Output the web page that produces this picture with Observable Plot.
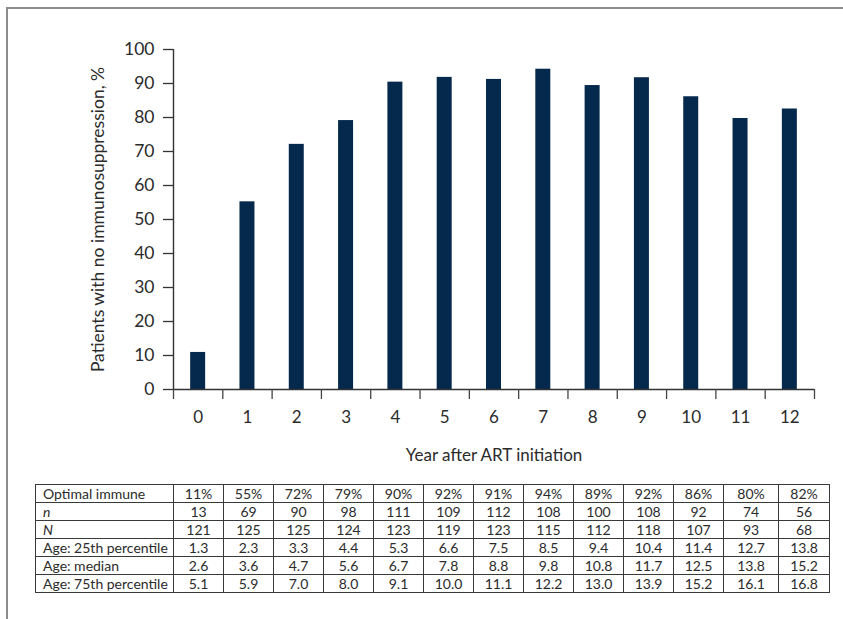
<!DOCTYPE html>
<html>
<head>
<meta charset="utf-8">
<script src="https://cdn.jsdelivr.net/npm/d3@7"></script>
<script src="https://cdn.jsdelivr.net/npm/@observablehq/plot@0.6"></script>
<style>
  html, body { margin: 0; padding: 0; background: #fff; }
  #wrap { position: relative; width: 843px; height: 619px; overflow: hidden; font-family: Lato, "Open Sans", sans-serif; color: #2b2b2b; }
  #frame { position: absolute; left: 6px; top: 7px; width: 850px; height: 640px; border-top: 2px solid #8c8c8c; border-left: 2px solid #8c8c8c; }
  #chart { position: absolute; left: 0; top: 0; }
  #tbl { position: absolute; left: 35px; top: 484px; border-collapse: collapse; table-layout: fixed; font-size: 14px; color: #2b2b2b; }
  #tbl td { border: 1px solid #3a3a3a; height: 17px; line-height: 17px; padding: 0; text-align: center; white-space: nowrap; overflow: hidden; }
  #tbl td.lab { text-align: left; padding-left: 7px; }
</style>
</head>
<body>
<div id="wrap">
  <div id="frame"></div>
  <div id="chart"></div>
  <table id="tbl"></table>
</div>
<script>
// ---- data ----
const years = [0, 1, 2, 3, 4, 5, 6, 7, 8, 9, 10, 11, 12];
const barValues = [10.9, 55.2, 72.1, 79.1, 90.4, 91.8, 91.2, 94.2, 89.4, 91.7, 86.1, 79.7, 82.5];
const yTicks = [0, 10, 20, 30, 40, 50, 60, 70, 80, 90, 100];
const xLabel = "Year after ART initiation";
const yLabel = "Patients with no immunosuppression, %";

const rowLabels = ["Optimal immune", "n", "N", "Age: 25th percentile", "Age: median", "Age: 75th percentile"];
const optimalImmune = ["11%", "55%", "72%", "79%", "90%", "92%", "91%", "94%", "89%", "92%", "86%", "80%", "82%"];
const nValues = [13, 69, 90, 98, 111, 109, 112, 108, 100, 108, 92, 74, 56];
const NValues = [121, 125, 125, 124, 123, 119, 123, 115, 112, 118, 107, 93, 68];
const age25 = ["1.3", "2.3", "3.3", "4.4", "5.3", "6.6", "7.5", "8.5", "9.4", "10.4", "11.4", "12.7", "13.8"];
const ageMedian = ["2.6", "3.6", "4.7", "5.6", "6.7", "7.8", "8.8", "9.8", "10.8", "11.7", "12.5", "13.8", "15.2"];
const age75 = ["5.1", "5.9", "7.0", "8.0", "9.1", "10.0", "11.1", "12.2", "13.0", "13.9", "15.2", "16.1", "16.8"];

// ---- chart ----
const data = years.map((y, i) => ({year: y, value: barValues[i]}));
const boundaries = d3.range(years[0] - 0.5, years[years.length - 1] + 1, 1);
const barHalf = 0.152;

const chart = Plot.plot({
  width: 843,
  height: 470,
  marginTop: 49,
  marginBottom: 81,
  marginLeft: 173,
  marginRight: 29,
  style: {fontFamily: "Lato, 'Open Sans', sans-serif", fontSize: "17px", color: "#2b2b2b", background: "transparent"},
  x: {type: "linear", domain: [years[0] - 0.5, years[years.length - 1] + 0.5]},
  y: {domain: [0, 100]},
  marks: [
    Plot.rectY(data, {x1: d => d.year - barHalf, x2: d => d.year + barHalf, y: "value", fill: "#05294d"}),
    Plot.ruleY([0], {stroke: "#333", strokeWidth: 1.4}),
    Plot.ruleX([years[0] - 0.5], {stroke: "#333", strokeWidth: 1.4}),
    Plot.axisY({ticks: yTicks, tickSize: 10, tickPadding: 9, stroke: "#333", strokeWidth: 1.3,
      label: yLabel, labelAnchor: "center", labelArrow: "none", labelOffset: 82, fontSize: 17.5}),
    Plot.axisX({ticks: boundaries, tickSize: 10, stroke: "#444", strokeWidth: 1.3, tickFormat: () => "", label: null}),
    Plot.axisX({ticks: years, tickSize: 0, tickPadding: 21, tickFormat: d => String(d), fontSize: 17,
      label: xLabel, labelAnchor: "center", labelArrow: "none", labelOffset: 71})
  ]
});
document.getElementById("chart").appendChild(chart);

// ---- table ----
const rows = [optimalImmune, nValues, NValues, age25, ageMedian, age75];
const colWidths = [138, 50, 50, 50, 50, 50, 50, 50, 50, 50, 50, 50, 55, 51];
const tbl = d3.select("#tbl");
tbl.append("colgroup").selectAll("col").data(colWidths).join("col").style("width", d => d + "px");
const tr = tbl.append("tbody").selectAll("tr").data(rows).join("tr");
tr.append("td").attr("class", "lab")
  .style("font-style", (d, i) => (i === 1 || i === 2) ? "italic" : "normal")
  .text((d, i) => rowLabels[i]);
tr.selectAll("td.v").data(d => d).join("td").attr("class", "v").text(d => d);
</script>
</body>
</html>
